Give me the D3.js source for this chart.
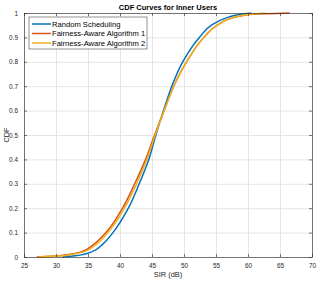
<!DOCTYPE html>
<html>
  <head>
    <meta charset="utf-8">
    <title></title>
  </head>
  <style>
    body{
      margin: 0;
      background-color: #fff;
      font-family: "Liberation Sans", Arial, sans-serif;
    }
    .grid line{ stroke: #e5e5e5; stroke-width: 1 }
    .grid path{ display: none }
    .tick text{ fill: #262626; font-size: 6.4px }
  </style>
  <script src="https://d3js.org/d3.v7.min.js"></script>
  <body>
    <script>
    // cdf levels and SIR (dB) for each scheme
    const cdfLevels = [0, 0.005, 0.01, 0.02, 0.05, 0.1, 0.2, 0.3, 0.4, 0.5, 0.6, 0.7, 0.8, 0.9, 0.95, 0.98, 0.99, 0.995, 1]
    const randomSir = [31, 33, 34.2, 35.5, 37.2, 38.9, 41.3, 43.0, 44.5, 45.6, 46.8, 48.1, 49.8, 52.4, 54.3, 56.6, 57.9, 58.9, 60.5]
    const fair1Sir  = [27, 30.5, 32.0, 33.8, 35.8, 37.8, 40.4, 42.3, 44.0, 45.4, 46.9, 48.4, 50.4, 53.1, 55.2, 57.6, 59.3, 60.8, 66.5]
    const fair2Sir  = [27.2, 31, 32.4, 34.2, 36.2, 38.1, 40.7, 42.6, 44.2, 45.5, 46.9, 48.4, 50.4, 53.1, 55.2, 57.5, 59.0, 60.3, 62.7]

    const seriesNames = ["Random Scheduling", "Fairness-Aware Algorithm 1", "Fairness-Aware Algorithm 2"]
    const seriesSir = [randomSir, fair1Sir, fair2Sir]
    const colors = ["#0072BD", "#D95319", "#EDB120"]

    const xTicks = [25, 30, 35, 40, 45, 50, 55, 60, 65, 70]
    const yTicks = [0, 0.1, 0.2, 0.3, 0.4, 0.5, 0.6, 0.7, 0.8, 0.9, 1]

    var W = 322, H = 282
    var m = {left: 24, top: 13, right: 10, bottom: 25}
    var width = W - m.left - m.right
    var height = H - m.top - m.bottom

    var svg = d3.select("body").append("svg")
                .attr("width", W)
                .attr("height", H)

    var g = svg.append("g").attr("transform", `translate(${m.left},${m.top})`)

    var x = d3.scaleLinear().domain([25, 70]).range([0, width])
    var y = d3.scaleLinear().domain([0, 1]).range([height, 0])

    // grid
    g.append("g").attr("class", "grid")
      .attr("transform", `translate(0,${height})`)
      .call(d3.axisBottom(x).tickValues(xTicks).tickSize(-height).tickFormat(""))
    g.append("g").attr("class", "grid")
      .call(d3.axisLeft(y).tickValues(yTicks).tickSize(-width).tickFormat(""))

    // curves
    var line = d3.line()
                 .x(function(d){ return x(d[0]) })
                 .y(function(d){ return y(d[1]) })
                 .curve(d3.curveMonotoneY)

    seriesSir.forEach(function(s, i){
      g.append("path")
        .datum(s.map(function(v, j){ return [v, cdfLevels[j]] }))
        .attr("fill", "none")
        .attr("stroke", colors[i])
        .attr("stroke-width", 1.5)
        .attr("d", line)
    })

    // axes, ticks pointing inward, on all four sides
    var axisColor = "#262626"
    g.append("g").attr("transform", `translate(0,${height})`)
      .call(d3.axisBottom(x).tickValues(xTicks).tickSizeInner(-3).tickSizeOuter(0).tickPadding(6).tickFormat(d3.format("d")))
    g.append("g")
      .call(d3.axisLeft(y).tickValues(yTicks).tickSizeInner(-3).tickSizeOuter(0).tickPadding(6).tickFormat(function(d){ return d === 0 || d === 1 ? d : d3.format(".1f")(d) }))
    g.append("g")
      .call(d3.axisTop(x).tickValues(xTicks).tickSizeInner(-3).tickSizeOuter(0).tickFormat(""))
    g.append("g").attr("transform", `translate(${width},0)`)
      .call(d3.axisRight(y).tickValues(yTicks).tickSizeInner(-3).tickSizeOuter(0).tickFormat(""))
    g.selectAll(".domain, .tick line").attr("stroke", axisColor).attr("stroke-width", 0.6)
    g.selectAll(".grid line").attr("stroke", "#e5e5e5").attr("stroke-width", 1)
    g.selectAll(".grid .domain").remove()

    // title and labels
    svg.append("text")
      .attr("x", m.left + width / 2).attr("y", 9.5)
      .attr("text-anchor", "middle")
      .attr("font-size", "7.5px").attr("font-weight", "bold").attr("fill", "#000")
      .text("CDF Curves for Inner Users")
    svg.append("text")
      .attr("x", m.left + width / 2).attr("y", 276.5)
      .attr("text-anchor", "middle")
      .attr("font-size", "7.4px").attr("fill", "#262626")
      .text("SIR (dB)")
    svg.append("text")
      .attr("transform", `translate(9.3,${m.top + height / 2}) rotate(-90)`)
      .attr("text-anchor", "middle")
      .attr("font-size", "7.4px").attr("fill", "#262626")
      .text("CDF")

    // legend
    var legend = g.append("g").attr("transform", "translate(5,4)")
    legend.append("rect")
      .attr("width", 118).attr("height", 32)
      .attr("fill", "#fff").attr("stroke", "#262626").attr("stroke-width", 0.5)
    seriesNames.forEach(function(name, i){
      var ly = 7 + i * 9.5
      legend.append("line")
        .attr("x1", 3).attr("x2", 22).attr("y1", ly).attr("y2", ly)
        .attr("stroke", colors[i]).attr("stroke-width", 1.5)
      legend.append("text")
        .attr("x", 23).attr("y", ly).attr("dy", "0.35em")
        .attr("font-size", "7.6px").attr("fill", "#000")
        .text(name)
    })
    </script>
  </body>
</html>
